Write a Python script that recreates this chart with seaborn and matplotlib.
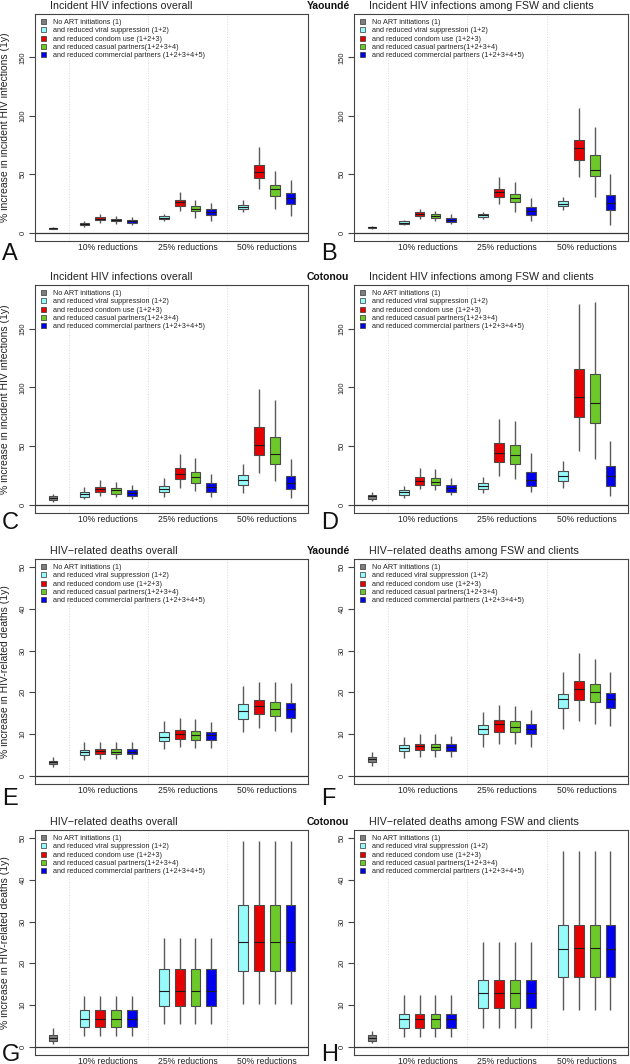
import numpy as np
import pandas as pd
import matplotlib
matplotlib.use('Agg')
import matplotlib.pyplot as plt
from matplotlib.patches import Patch
import seaborn as sns

scenarios = ['No ART initiations (1)',
             'and reduced viral suppression (1+2)',
             'and reduced condom use (1+2+3)',
             'and reduced casual partners(1+2+3+4)',
             'and reduced commercial partners (1+2+3+4+5)']
colors = ['#7f7f7f', '#98fbfb', '#e80000', '#6dc82a', '#0000f0']
groups = ['10% reductions', '25% reductions', '50% reductions']

# five-number summaries [low whisker, q1, median, q3, high whisker]
# row order: baseline, then cyan/red/green/blue for 10%, 25%, 50%
inc_yao_all = [[2.8, 3.3, 3.8, 4.3, 5.0],
               [5.2, 6.3, 7.5, 8.3, 9.5], [8.6, 10.6, 12.0, 13.2, 15.8],
               [7.7, 9.5, 10.6, 11.8, 13.8], [6.6, 8.6, 9.8, 10.9, 13.2],
               [10.0, 11.8, 12.9, 13.8, 15.8], [18.6, 23.2, 26.4, 28.1, 34.7],
               [12.3, 18.1, 20.1, 22.4, 28.1], [10.3, 15.2, 17.8, 19.8, 25.5],
               [17.5, 20.4, 22.1, 23.9, 27.6], [37.6, 46.8, 52.0, 58.0, 73.0],
               [20.4, 31.6, 37.0, 41.0, 52.8], [14.6, 24.7, 29.3, 33.6, 45.0]]
inc_yao_fsw = [[3.5, 4.0, 4.5, 5.0, 5.5],
               [6.3, 7.5, 8.6, 9.8, 10.9], [12.0, 14.3, 16.0, 17.5, 20.6],
               [9.8, 12.6, 14.3, 15.5, 18.9], [7.2, 9.2, 10.9, 12.3, 16.0],
               [12.0, 13.5, 14.9, 16.0, 17.8], [24.1, 30.4, 34.4, 37.3, 47.6],
               [17.8, 25.8, 29.8, 33.3, 43.0], [9.8, 15.2, 18.6, 21.5, 29.8],
               [19.6, 23.0, 24.7, 26.7, 30.2], [47.4, 62.0, 72.2, 79.3, 106.4],
               [30.2, 48.3, 54.0, 66.1, 90.5], [6.6, 19.0, 25.3, 31.9, 50.3]]
inc_cot_all = [[2.0, 4.3, 5.7, 7.1, 9.1],
               [4.9, 6.6, 8.9, 10.6, 15.1], [7.1, 10.6, 12.9, 15.1, 20.6],
               [6.6, 9.4, 12.3, 14.3, 19.1], [4.9, 7.7, 10.0, 12.0, 17.1],
               [6.5, 10.5, 13.4, 16.0, 22.3], [14.3, 21.4, 25.7, 30.8, 43.4],
               [11.4, 18.5, 23.1, 27.7, 40.0], [6.5, 10.8, 14.6, 18.0, 25.7],
               [10.0, 16.3, 20.8, 25.1, 34.5], [27.1, 42.3, 50.8, 66.5, 98.6],
               [20.2, 34.5, 43.1, 58.0, 88.8], [6.0, 12.9, 18.5, 24.0, 38.6]]
inc_cot_fsw = [[2.9, 5.1, 6.9, 8.3, 10.9],
               [6.0, 8.3, 10.3, 12.3, 15.7], [13.4, 16.9, 20.0, 23.1, 31.1],
               [12.3, 16.3, 19.1, 22.6, 30.6], [8.3, 11.1, 14.0, 16.6, 22.6],
               [10.0, 13.4, 15.7, 18.0, 23.1], [24.5, 36.0, 43.7, 52.8, 73.1],
               [21.7, 34.5, 42.0, 50.6, 71.4], [10.8, 16.0, 20.8, 27.4, 43.7],
               [14.3, 20.2, 24.5, 28.5, 37.1], [45.7, 74.6, 91.7, 115.7, 170.8],
               [38.8, 69.4, 86.6, 111.7, 172.3], [7.1, 15.7, 24.3, 33.0, 54.3]]
dth_yao_all = [[2.1, 2.9, 3.2, 3.6, 4.4],
               [3.8, 5.0, 5.7, 6.2, 8.0], [4.0, 5.2, 5.9, 6.5, 8.2],
               [4.0, 5.2, 5.8, 6.3, 8.1], [3.9, 5.1, 5.7, 6.3, 8.0],
               [6.4, 8.3, 9.4, 10.4, 13.2], [6.9, 8.7, 10.0, 10.9, 13.9],
               [6.7, 8.6, 9.8, 10.7, 13.7], [6.6, 8.6, 9.7, 10.5, 12.9],
               [10.5, 13.7, 15.5, 17.1, 21.6], [11.5, 14.9, 16.7, 18.2, 22.6],
               [10.8, 14.3, 16.1, 17.7, 22.6], [10.5, 13.9, 15.9, 17.4, 22.3]]
dth_yao_fsw = [[2.4, 3.4, 3.9, 4.4, 5.8],
               [4.2, 5.9, 6.7, 7.4, 9.2], [4.5, 6.2, 7.1, 7.7, 10.0],
               [4.4, 6.1, 7.0, 7.7, 9.9], [4.4, 6.0, 6.9, 7.5, 9.6],
               [7.0, 10.0, 11.2, 12.1, 15.3], [7.7, 10.5, 12.3, 13.3, 17.0],
               [7.5, 10.4, 11.7, 13.1, 16.7], [6.9, 10.1, 11.3, 12.5, 15.7],
               [11.2, 16.3, 18.5, 19.7, 24.8], [13.1, 18.1, 20.8, 22.7, 29.4],
               [12.4, 17.8, 20.0, 22.0, 28.0], [11.9, 16.3, 18.5, 19.8, 24.8]]
dth_cot_all = [[0.6, 1.35, 2.1, 2.8, 4.4],
               [2.6, 4.8, 6.7, 8.8, 12.1], [2.6, 4.8, 6.7, 8.8, 12.1],
               [2.6, 4.8, 6.7, 8.8, 12.1], [2.6, 4.8, 6.7, 8.8, 12.1],
               [5.4, 9.8, 13.3, 18.7, 26.2], [5.4, 9.8, 13.3, 18.7, 26.2],
               [5.4, 9.8, 13.3, 18.7, 26.2], [5.4, 9.8, 13.3, 18.7, 26.2],
               [10.2, 18.1, 25.1, 34.0, 49.4], [10.2, 18.1, 25.1, 34.0, 49.4],
               [10.2, 18.1, 25.1, 34.0, 49.4], [10.2, 18.1, 25.1, 34.0, 49.4]]
dth_cot_fsw = [[0.8, 1.4, 2.1, 2.7, 3.7],
               [2.4, 4.6, 6.6, 7.9, 12.3], [2.4, 4.6, 6.6, 7.9, 12.3],
               [2.4, 4.6, 6.6, 7.9, 12.3], [2.4, 4.6, 6.6, 7.9, 12.3],
               [4.6, 9.2, 13.0, 16.1, 25.2], [4.6, 9.2, 13.0, 16.1, 25.2],
               [4.6, 9.2, 13.0, 16.1, 25.2], [4.6, 9.2, 13.0, 16.1, 25.2],
               [8.7, 16.7, 23.5, 29.2, 46.9], [8.7, 16.7, 23.7, 29.2, 46.9],
               [8.7, 16.7, 23.7, 29.2, 46.9], [8.7, 16.7, 23.5, 29.2, 46.9]]

t_inc_all = 'Incident HIV infections overall'
t_inc_fsw = 'Incident HIV infections among FSW and clients'
t_dth_all = 'HIV\u2212related deaths overall'
t_dth_fsw = 'HIV\u2212related deaths among FSW and clients'
yl_inc = '% increase in incident HIV infections (1y)'
yl_dth = '% increase in HIV-related deaths (1y)'
cities = ['Yaound\u00e9', 'Cotonou', 'Yaound\u00e9', 'Cotonou']

panels = [(inc_yao_all, t_inc_all, 'A'), (inc_yao_fsw, t_inc_fsw, 'B'),
          (inc_cot_all, t_inc_all, 'C'), (inc_cot_fsw, t_inc_fsw, 'D'),
          (dth_yao_all, t_dth_all, 'E'), (dth_yao_fsw, t_dth_fsw, 'F'),
          (dth_cot_all, t_dth_all, 'G'), (dth_cot_fsw, t_dth_fsw, 'H')]

sns.set_theme(style='white')
plt.rcParams['font.family'] = ['Liberation Sans', 'DejaVu Sans']

W, H = 630, 1064
fig = plt.figure(figsize=(W / 100, H / 100), dpi=100)

col_left = [35, 354]
col_width = [273, 274]
row_top = [14, 285, 559, 830]
row_bot = [241, 513, 784, 1055]
letter_base = [260, 529, 805, 1061]


def to_frame(stats):
    rows = []
    for i, five in enumerate(stats):
        if i == 0:
            s, pos = 0, 0
        else:
            g, k = divmod(i - 1, 4)
            s, pos = k + 1, 2 + 5 * g + k
        for v in five:
            rows.append({'pos': pos, 'scen': scenarios[s], 'val': v})
    return pd.DataFrame(rows)


box_kw = dict(whis=(0, 100), showcaps=False, saturation=1, linecolor='#4a4a4a',
              linewidth=0.8, native_scale=True, dodge=False, legend=False,
              medianprops=dict(color='#1a1a1a', linewidth=0.8),
              whiskerprops=dict(color='#5a5a5a', linewidth=1.0))

for n, (stats, title, letter) in enumerate(panels):
    r, c = divmod(n, 2)
    L, Wd, T, B = col_left[c], col_width[c], row_top[r], row_bot[r]
    ax = fig.add_axes([L / W, 1 - B / H, Wd / W, (B - T) / H])
    df = to_frame(stats)
    deaths = r >= 2
    ymax = 50 if deaths else 180

    for sep in [1, 6, 11]:
        ax.axvline(sep, color='#d9d9d9', ls=':', lw=0.7, zorder=0)
    ax.axhline(0, color='#333333', lw=0.9, zorder=1)

    sns.boxplot(data=df[df.scen == scenarios[0]], x='pos', y='val',
                color=colors[0], width=0.5, ax=ax, **box_kw)
    sns.boxplot(data=df[df.scen != scenarios[0]], x='pos', y='val', hue='scen',
                hue_order=scenarios[1:], palette=colors[1:], width=0.62,
                ax=ax, **box_kw)

    ax.set_xlim(-1.12, 16.1)
    ax.set_ylim(-0.04 * ymax, 1.04 * ymax)
    yt = np.arange(0, 51, 10) if deaths else np.arange(0, 151, 50)
    ax.set_yticks(yt)
    ax.set_yticklabels([str(v) for v in yt], rotation=90, va='center')
    ax.tick_params(axis='y', left=True, length=4, width=0.8, color='#444444',
                   labelsize=5.4, pad=2, labelcolor='#222222')
    ax.set_xticks([3.5, 8.5, 13.5])
    ax.set_xticklabels(groups)
    ax.tick_params(axis='x', length=0, labelsize=6.2, pad=1.5, labelcolor='#222222')
    ax.set_xlabel('')
    ax.set_ylabel('')
    for sp in ax.spines.values():
        sp.set_color('#444444')
        sp.set_linewidth(0.8)

    handles = [Patch(facecolor=col, edgecolor='#333333', linewidth=0.5) for col in colors]
    ax.legend(handles, scenarios, loc='upper left', frameon=False,
              bbox_to_anchor=(5.5 / Wd, 1 - 5 / (B - T)), borderaxespad=0,
              borderpad=0, fontsize=5.2, handlelength=0.7, handleheight=0.7,
              handletextpad=1.0, labelspacing=0.18)

    fig.text((L + 15) / W, 1 - (T - 8) / H, title, ha='left', va='center',
             fontsize=7.7, color='#222222')
    fig.text((2 if c == 0 else 321) / W, 1 - letter_base[r] / H, letter,
             ha='left', va='baseline', fontsize=17, color='#111111')
    if c == 0:
        fig.text(5 / W, 1 - ((T + B) / 2) / H, yl_inc if not deaths else yl_dth,
                 rotation=90, ha='center', va='center', fontsize=7.5,
                 color='#222222')

for r in range(4):
    fig.text(328 / W, 1 - (row_top[r] - 8) / H, cities[r], ha='center',
             va='center', fontsize=7.5, fontweight='bold', color='#111111')

fig.savefig('out.png', dpi=100)
